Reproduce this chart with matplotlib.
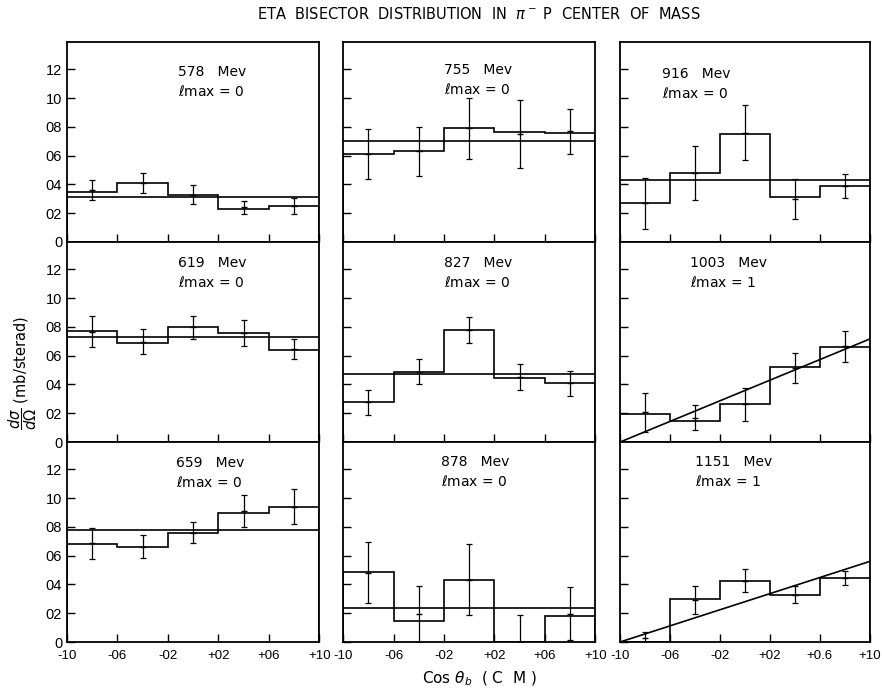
import numpy as np
import matplotlib.pyplot as plt

# bin edges in cos(theta_b), 5 bins of width 0.4
edges = [-1.0, -0.6, -0.2, 0.2, 0.6, 1.0]
centers = [-0.8, -0.4, 0.0, 0.4, 0.8]

# panel order: rows top->bottom, columns left->right
energies = ['578', '755', '916', '619', '827', '1003', '659', '878', '1151']
lmax = ['0', '0', '0', '0', '0', '1', '0', '0', '1']

# histogram heights (mb/sterad)
h578 = [0.035, 0.041, 0.033, 0.023, 0.025]
h755 = [0.061, 0.063, 0.079, 0.0765, 0.076]
h916 = [0.0274, 0.048, 0.075, 0.031, 0.039]
h619 = [0.077, 0.069, 0.080, 0.076, 0.064]
h827 = [0.0276, 0.0487, 0.078, 0.0445, 0.041]
h1003 = [0.0197, 0.0146, 0.0265, 0.052, 0.066]
h659 = [0.068, 0.066, 0.0755, 0.090, 0.0937]
h878 = [0.0485, 0.0147, 0.043, 0.0, 0.0184]
h1151 = [0.0, 0.0296, 0.0427, 0.033, 0.0443]

# error bar centres and half-lengths
p578 = [0.036, 0.041, 0.033, 0.024, 0.025]
e578 = [0.007, 0.0067, 0.0064, 0.0044, 0.0055]
p755 = [0.061, 0.063, 0.079, 0.0752, 0.077]
e755 = [0.0175, 0.017, 0.021, 0.0236, 0.0156]
p916 = [0.027, 0.048, 0.076, 0.030, 0.039]
e916 = [0.0177, 0.019, 0.019, 0.0138, 0.0086]
p619 = [0.0768, 0.0698, 0.0797, 0.0759, 0.0645]
e619 = [0.0107, 0.0089, 0.0078, 0.0092, 0.007]
p827 = [0.0276, 0.0488, 0.078, 0.0452, 0.0407]
e827 = [0.0086, 0.0087, 0.0089, 0.0089, 0.0087]
p1003 = [0.0206, 0.0170, 0.0262, 0.0515, 0.0665]
e1003 = [0.0135, 0.0086, 0.0116, 0.0104, 0.0106]
p659 = [0.0686, 0.0661, 0.0761, 0.0912, 0.0941]
e659 = [0.0108, 0.008, 0.0073, 0.0112, 0.0123]
p878 = [0.0483, 0.0194, 0.0434, 0.0, 0.0197]
e878 = [0.0209, 0.0194, 0.0248, 0.0186, 0.0185]
p1151 = [0.003, 0.0292, 0.0427, 0.033, 0.0448]
e1151 = [0.004, 0.0094, 0.0077, 0.0062, 0.0049]

# fitted curves: constant + slope * cos
fit_a = [0.031, 0.0705, 0.043, 0.073, 0.0476, 0.0358, 0.078, 0.0235, 0.028]
fit_b = [0.0, 0.0, 0.0, 0.0, 0.0, 0.0358, 0.0, 0.0, 0.028]

heights = [h578, h755, h916, h619, h827, h1003, h659, h878, h1151]
points = [p578, p755, p916, p619, p827, p1003, p659, p878, p1151]
errors = [e578, e755, e916, e619, e827, e1003, e659, e878, e1151]

yticks = [0, 0.02, 0.04, 0.06, 0.08, 0.10, 0.12]
ylabels = ['0', '02', '04', '06', '08', '10', '12']
xticks = [-1.0, -0.6, -0.2, 0.2, 0.6, 1.0]
xlabels = ['-10', '-06', '-02', '+02', '+06', '+10']

# label positions (axes fraction)
txt_x = [0.44, 0.40, 0.17, 0.44, 0.40, 0.28, 0.43, 0.39, 0.30]
txt_y = [0.85, 0.86, 0.84, 0.895, 0.895, 0.895, 0.895, 0.90, 0.90]

tickfont = 'Liberation Sans'

fig = plt.figure(figsize=(8.82, 6.91), dpi=100)
lefts = [0.076, 0.389, 0.703]
widths = [0.286, 0.286, 0.283]
bottoms = [0.6498, 0.3603, 0.0709]
h = 0.2894

for i in range(9):
    r, c = i // 3, i % 3
    ax = fig.add_axes([lefts[c], bottoms[r], widths[c], h])
    ax.stairs(heights[i], edges, color='black', lw=1.2)
    xs = np.array([-1.0, 1.0])
    ax.plot(xs, fit_a[i] + fit_b[i] * xs, color='black', lw=1.2)
    ax.errorbar(centers, points[i], yerr=errors[i], fmt='_', color='black',
                ms=4, elinewidth=0.9, capsize=2.5, capthick=0.9)
    ax.set_xlim(-1.0, 1.0)
    ax.set_ylim(0, 0.139)
    ax.set_yticks(yticks)
    ax.set_xticks(xticks)
    ax.tick_params(direction='in', length=6, width=1, labelsize=10.5)
    ax.tick_params(axis='x', pad=6, labelsize=9.5)
    if c == 0:
        ax.set_yticklabels(ylabels, family=tickfont)
    else:
        ax.set_yticklabels([])
    if r == 2:
        labs = list(xlabels)
        if c == 2:
            labs[4] = '+0.6'
        ax.set_xticklabels(labs, family=tickfont)
    else:
        ax.set_xticklabels([])
    for s in ax.spines.values():
        s.set_linewidth(1.3)
    ax.text(txt_x[i], txt_y[i], energies[i] + '   Mev', transform=ax.transAxes,
            fontsize=10, va='center')
    ax.text(txt_x[i], txt_y[i] - 0.095, r'$\ell$max = ' + lmax[i],
            transform=ax.transAxes, fontsize=10, va='center')

fig.text(0.543, 0.98, r'ETA  BISECTOR  DISTRIBUTION  IN  $\pi^-$ P  CENTER  OF  MASS',
         ha='center', va='center', fontsize=10.5)
fig.text(0.543, 0.017, r'Cos $\theta_b$  ( C  M )', ha='center', va='center', fontsize=11)
fig.text(0.026, 0.46, r'$\dfrac{d\sigma}{d\Omega}$ (mb/sterad)', rotation=90,
         ha='center', va='center', fontsize=10.5)

fig.savefig('out.png', dpi=100)
